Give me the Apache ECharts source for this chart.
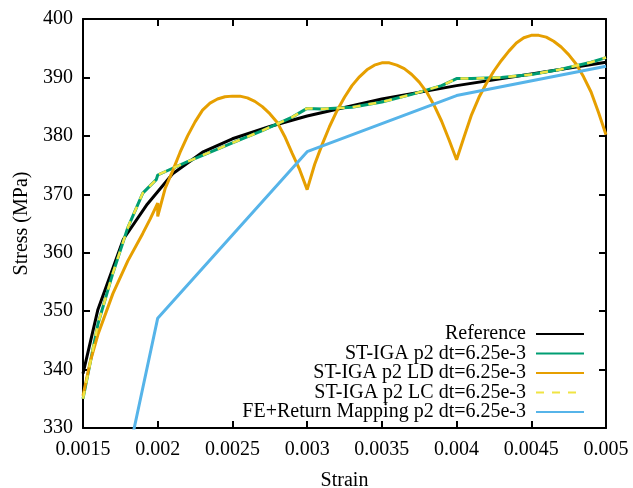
<!DOCTYPE html>
<html>
<head>
<meta charset="utf-8">
<script src="https://cdn.jsdelivr.net/npm/echarts@6/dist/echarts.min.js"></script>
<style>
html,body{margin:0;padding:0;background:#fff;}
#chart{width:633px;height:488px;}
</style>
</head>
<body>
<div id="chart"></div>
<script>
// ---- data ----
const xTicks = { min: 0.0015, max: 0.005, interval: 0.0005 };
const yTicks = { min: 330, max: 400, interval: 10 };

const seriesNames = [
  'Reference',
  'ST-IGA p2 dt=6.25e-3',
  'ST-IGA p2 LD dt=6.25e-3',
  'ST-IGA p2 LC dt=6.25e-3',
  'FE+Return Mapping p2 dt=6.25e-3'
];

const refStrain = [0.0015, 0.0016, 0.00177, 0.00193, 0.0021, 0.0023, 0.0025, 0.00275, 0.003, 0.0035, 0.004, 0.0045, 0.005];
const refStress = [339.3, 350.3, 362.3, 368.3, 373.5, 377.2, 379.5, 381.6, 383.4, 386.3, 388.6, 390.6, 392.6];

const igaStrain = [0.0015, 0.0016, 0.0017, 0.0018, 0.0019, 0.00199, 0.002, 0.0022, 0.0025, 0.0027, 0.0029, 0.003, 0.0031, 0.0033, 0.0035, 0.0037, 0.0039, 0.004, 0.0041, 0.0043, 0.0045, 0.0047, 0.0049, 0.005];
const igaStress = [335.0, 347.8, 356.5, 364.3, 370.2, 372.5, 373.3, 375.6, 378.8, 380.9, 383.2, 384.7, 384.6, 384.9, 385.8, 387.1, 388.6, 389.8, 389.8, 390.0, 390.5, 391.4, 392.6, 393.4];

const ldStrain = [0.0015, 0.00155, 0.0016, 0.0017, 0.0018, 0.0019, 0.00195, 0.002,
  0.002, 0.00205, 0.0021, 0.00215, 0.0022, 0.00225, 0.0023, 0.00235, 0.0024, 0.00245, 0.0025, 0.00255, 0.0026, 0.00265, 0.0027, 0.00275, 0.0028, 0.00285, 0.0029, 0.00295, 0.003,
  0.00305, 0.0031, 0.00315, 0.0032, 0.00325, 0.0033, 0.00335, 0.0034, 0.00345, 0.0035, 0.00355, 0.0036, 0.00365, 0.0037, 0.00375, 0.0038, 0.00385, 0.0039, 0.00395, 0.004,
  0.00405, 0.0041, 0.00415, 0.0042, 0.00425, 0.0043, 0.00435, 0.0044, 0.00445, 0.0045, 0.00455, 0.0046, 0.00465, 0.0047, 0.00475, 0.0048, 0.00485, 0.0049, 0.00495, 0.005];
const ldStress = [335.5, 341.5, 346.0, 353.0, 358.6, 363.3, 365.8, 368.5,
  366.2, 371.0, 374.0, 377.2, 380.0, 382.4, 384.4, 385.6, 386.3, 386.7, 386.8, 386.8, 386.5, 385.9, 385.0, 383.8, 382.3, 379.9, 377.0, 374.2, 370.8,
  375.1, 378.5, 381.6, 384.3, 386.6, 388.6, 390.1, 391.3, 392.1, 392.5, 392.5, 392.1, 391.5, 390.5, 389.2, 387.5, 385.2, 382.5, 379.3, 375.9,
  379.8, 383.6, 386.6, 389.0, 391.1, 392.9, 394.5, 395.9, 396.8, 397.2, 397.2, 396.9, 396.2, 395.2, 393.9, 392.3, 390.1, 387.5, 384.0, 380.2];

const lcStrain = [0.0015, 0.0016, 0.0017, 0.0018, 0.0019, 0.00199, 0.002, 0.0022, 0.0025, 0.0027, 0.0029, 0.003, 0.0031, 0.0033, 0.0035, 0.0037, 0.0039, 0.004, 0.0041, 0.0043, 0.0045, 0.0047, 0.0049, 0.005];
const lcStress = [335.0, 347.8, 356.5, 364.3, 370.2, 372.5, 373.3, 375.6, 378.8, 380.9, 383.2, 384.7, 384.6, 384.9, 385.8, 387.1, 388.6, 389.8, 389.8, 390.0, 390.5, 391.4, 392.6, 393.4];

const feStrain = [0.0015, 0.002, 0.003, 0.004, 0.005];
const feStress = [289.0, 348.8, 377.3, 386.9, 391.9];

// ---- chart ----
const zip = (xs, ys) => xs.map((x, i) => [x, ys[i]]);
const FONT = "'Liberation Serif', 'Times New Roman', serif";
const colors = ['#000000', '#009e73', '#e69f00', '#f0e442', '#56b4e9'];
const widths = [3, 3, 3, 2.5, 3];
const types = ['solid', 'solid', 'solid', [8, 8], 'solid'];
const datasets = [
  zip(refStrain, refStress),
  zip(igaStrain, igaStress),
  zip(ldStrain, ldStress),
  zip(lcStrain, lcStress),
  zip(feStrain, feStress)
];

const legendTops = [324, 343.5, 363, 382.5, 402];

const chart = echarts.init(document.getElementById('chart'), null, { renderer: 'canvas' });

const axisCommon = {
  type: 'value',
  axisLine: { show: true, onZero: false, lineStyle: { color: '#000', width: 2 } },
  axisTick: { show: true, inside: true, length: 7, lineStyle: { color: '#000', width: 2 } },
  splitLine: { show: false }
};

chart.setOption({
  animation: false,
  backgroundColor: '#ffffff',
  textStyle: { fontFamily: FONT },
  grid: { left: 83, right: 27, top: 19, bottom: 60, containLabel: false, outerBoundsMode: 'none' },
  xAxis: [
    Object.assign({}, axisCommon, {
      position: 'bottom',
      min: xTicks.min, max: xTicks.max, interval: xTicks.interval,
      name: 'Strain', nameLocation: 'middle', nameGap: 43,
      nameTextStyle: { fontFamily: FONT, fontSize: 20, color: '#000' },
      axisLabel: { show: true, margin: 12, fontFamily: FONT, fontSize: 20, color: '#000',
        formatter: v => String(+v.toFixed(4)) }
    }),
    Object.assign({}, axisCommon, {
      position: 'top',
      min: xTicks.min, max: xTicks.max, interval: xTicks.interval,
      axisLabel: { show: false }
    })
  ],
  yAxis: [
    Object.assign({}, axisCommon, {
      position: 'left',
      min: yTicks.min, max: yTicks.max, interval: yTicks.interval,
      name: 'Stress (MPa)', nameLocation: 'middle', nameGap: 51,
      nameTextStyle: { fontFamily: FONT, fontSize: 20, color: '#000' },
      axisLabel: { show: true, margin: 10, fontFamily: FONT, fontSize: 20, color: '#000' }
    }),
    Object.assign({}, axisCommon, {
      position: 'right',
      min: yTicks.min, max: yTicks.max, interval: yTicks.interval,
      axisLabel: { show: false }
    })
  ],
  legend: seriesNames.map((name, i) => ({
    data: [name],
    orient: 'vertical',
    right: 48,
    top: legendTops[i],
    padding: 0,
    align: 'right',
    itemWidth: 48,
    itemHeight: 14,
    selectedMode: false,
    itemStyle: { opacity: 0 },
    textStyle: { fontFamily: FONT, fontSize: 20, color: '#000', lineHeight: 20, padding: [0, 5, 0, 0] }
  })),
  series: seriesNames.map((name, i) => ({
    name: name,
    type: 'line',
    xAxisIndex: 0,
    yAxisIndex: 0,
    data: datasets[i],
    showSymbol: false,
    symbol: 'none',
    smooth: false,
    clip: true,
    lineStyle: { color: colors[i], width: widths[i], type: types[i] },
    itemStyle: { color: colors[i] }
  }))
});
</script>
</body>
</html>
